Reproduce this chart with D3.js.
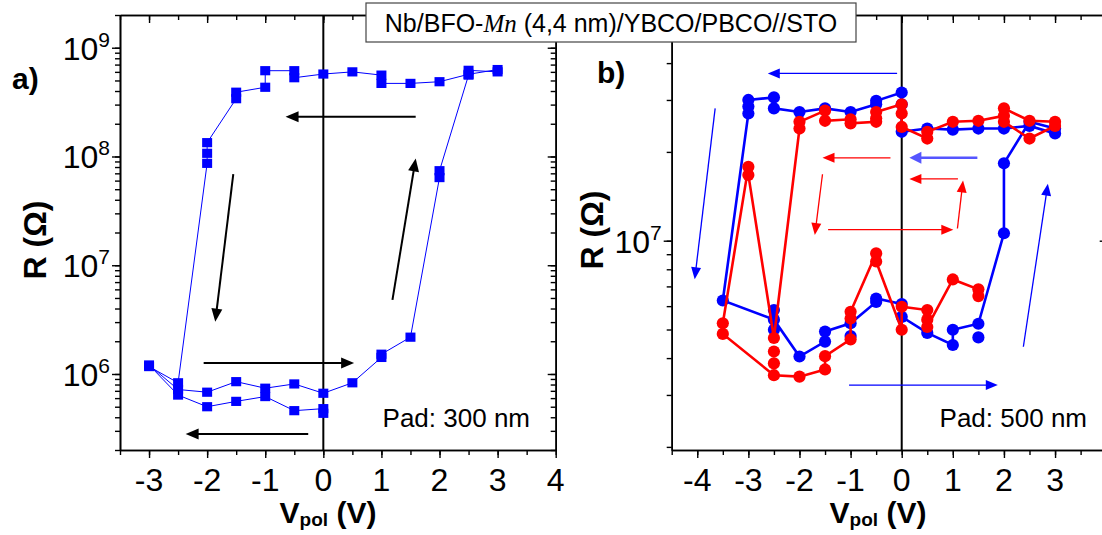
<!DOCTYPE html>
<html><head><meta charset="utf-8">
<script src="https://cdn.jsdelivr.net/npm/d3@7"></script>
<style>
body{margin:0;background:#fff}
svg{display:block}
text{font-family:"Liberation Sans",Arial,sans-serif;fill:#000}
</style>
</head><body>
<svg id="c" width="1102" height="535"></svg>
<script>
// ---------- Panel a data (Pad 300 nm) ----------
const aV = [0, 0, -0.5, -1, -1.5, -2, -2.5, -3, -2.5, -2, -1.5, -1, -0.5, 0, 0.5, 1, 1, 1.5, 2, 2, 2.5, 2.5, 3, 3, 2.5, 2, 1.5, 1, 1, 0.5, 0, -0.5, -0.5, -1, -1, -1.5, -1.5, -2, -2, -2, -2.5, -3];
const aR = [4.35e5, 4.8e5, 4.6e5, 6.2e5, 5.6e5, 5.0e5, 6.4e5, 1.21e6, 7.2e5, 6.8e5, 8.5e5, 7.4e5, 8.1e5, 6.65e5, 8.3e5, 1.42e6, 1.52e6, 2.18e6, 6.4e7, 7.4e7, 5.6e8, 6.2e8, 6.0e8, 6.3e8, 5.7e8, 4.87e8, 4.7e8, 4.7e8, 5.6e8, 6.0e8, 5.73e8, 5.3e8, 6.15e8, 6.15e8, 4.33e8, 3.9e8, 3.4e8, 1.34e8, 1.07e8, 8.65e7, 8.3e5, 1.17e6];

// ---------- Panel b data (Pad 500 nm) ----------
const bBlueV = [3, 2.5, 2, 1.5, 1, 0.5, 0, 0, 0, -0.5, -0.5, -1, -1.5, -2, -2.5, -2.5, -3, -3, -3, -3.5, -2.5, -2, -1.5, -1.5, -1, -0.5, -0.5, 0, 0, 0.5, 1, 1, 1.5, 2, 2, 2.5, 3];
const bBlueR = [2.31e7, 2.45e7, 2.40e7, 2.40e7, 2.38e7, 2.40e7, 2.34e7, 2.9e7, 3.18e7, 2.98e7, 2.9e7, 2.73e7, 2.81e7, 2.73e7, 2.81e7, 3.06e7, 3.0e7, 2.85e7, 2.7e7, 6.27e6, 5.4e6, 4.05e6, 4.55e6, 4.92e6, 5.25e6, 6.2e6, 6.37e6, 6.1e6, 5.52e6, 4.87e6, 4.43e6, 4.99e6, 5.23e6, 1.06e7, 1.83e7, 2.53e7, 2.4e7];
const bBlueExtraV = [-2.5, -2.5, -1, 1.5];
const bBlueExtraR = [5.82e6, 4.99e6, 4.75e6, 4.7e6];

const bRedV = [2, 2.5, 3, 3, 2.5, 2, 2, 1.5, 1, 0.5, 0.5, 0, 0, 0, -0.5, -0.5, -0.5, -1, -1, -1.5, -1.5, -2, -2, -2.5, -3, -3, -3.5, -3.5, -2.5, -2, -1.5, -1.5, -1, -1, -1, -0.5, -0.5, 0, 0, 0.5, 0.5, 0.5, 1, 1.5, 1.5];
const bRedR = [2.53e7, 2.22e7, 2.45e7, 2.53e7, 2.55e7, 2.81e7, 2.65e7, 2.55e7, 2.53e7, 2.34e7, 2.22e7, 2.43e7, 2.7e7, 2.9e7, 2.73e7, 2.6e7, 2.53e7, 2.5e7, 2.58e7, 2.55e7, 2.76e7, 2.53e7, 2.40e7, 4.68e6, 1.67e7, 1.78e7, 5.25e6, 4.83e6, 3.5e6, 3.46e6, 3.66e6, 4.06e6, 4.63e6, 5.45e6, 5.74e6, 9.06e6, 8.5e6, 4.99e6, 5.97e6, 5.82e6, 5.4e6, 5.1e6, 7.39e6, 6.84e6, 6.49e6];
const bRedExtraV = [-2.5, -2.5];
const bRedExtraR = [4.21e6, 3.84e6];

// ---------- Arrows [V1, R1, V2, R2] ----------
const arrowsA = [[1.59, 2.32e8, -0.65, 2.32e8], [-1.55, 6.9e7, -1.86, 3.03e6], [1.19, 4.8e6, 1.59, 9.6e7], [-2.06, 1.26e6, 0.53, 1.26e6], [-0.26, 2.8e5, -2.37, 2.8e5]];
const arrowsBlue = [[-0.09, 3.69e7, -2.62, 3.69e7], [-3.65, 2.81e7, -4.05, 7.4e6], [-1.03, 3.24e6, 1.88, 3.24e6], [2.38, 4.37e6, 2.86, 1.56e7]];
const arrowsBlueThick = [[1.48, 1.91e7, 0.15, 1.91e7]];
const arrowsRed = [[-0.22, 1.91e7, -1.55, 1.91e7], [1.10, 1.62e7, 0.15, 1.62e7], [-1.55, 1.68e7, -1.70, 1.045e7], [-1.44, 1.09e7, 1.01, 1.09e7], [1.09, 1.10e7, 1.20, 1.6e7]];

// ---------- Tick labels ----------
const aXTicks = [-3, -2, -1, 0, 1, 2, 3, 4];
const bXTicks = [-4, -3, -2, -1, 0, 1, 2, 3];
const bXMajor = [-4, -3, -2, -1, 0, 1, 2, 3, 4];
const aYTicks = [1e6, 1e7, 1e8, 1e9];
const bYTicks = [1e7];
const titleParts = ["Nb/BFO-", "Mn", " (4,4 nm)/YBCO/PBCO//STO"];

const svg = d3.select("#c");
const BLUE = "#0000ff", RED = "#ff0000";

function zip(v, r) { return v.map((d, i) => [d, r[i]]); }

function minorLog(dom) {
  const out = [];
  for (let e = Math.floor(Math.log10(dom[0])); e <= Math.ceil(Math.log10(dom[1])); e++)
    for (let m = 1; m <= 9; m++) { const v = m * Math.pow(10, e); if (v >= dom[0] && v <= dom[1]) out.push(v); }
  return out;
}
function halves(dom) {
  const out = [];
  for (let v = Math.ceil(dom[0] * 2) / 2; v <= dom[1] + 1e-9; v += 0.5) out.push(v);
  return out;
}

function frame(x, y, xMajor, xLabels, yMajor) {
  const [x0, x1] = x.range(), [y0, y1] = y.range();
  const g = svg.append("g");
  const xMin = halves(x.domain()), yMin = minorLog(y.domain());
  const ax = [
    [d3.axisBottom(x).tickValues(xMin).tickSize(5), `translate(0,${y0})`],
    [d3.axisBottom(x).tickValues(xMajor).tickSize(8), `translate(0,${y0})`],
    [d3.axisTop(x).tickValues(xMin).tickSize(-5), `translate(0,${y1})`],
    [d3.axisTop(x).tickValues(xMajor).tickSize(-8), `translate(0,${y1})`],
    [d3.axisLeft(y).tickValues(yMin).tickSize(5), `translate(${x0},0)`],
    [d3.axisLeft(y).tickValues(yMajor).tickSize(8), `translate(${x0},0)`],
    [d3.axisRight(y).tickValues(yMin).tickSize(-5), `translate(${x1},0)`],
    [d3.axisRight(y).tickValues(yMajor).tickSize(-8), `translate(${x1},0)`]
  ];
  ax.forEach(([a, t]) => {
    const s = g.append("g").attr("transform", t).call(a.tickFormat("").tickSizeOuter(0));
    s.selectAll("path.domain").attr("stroke", "#000").attr("stroke-width", 1.6);
    s.selectAll("line").attr("stroke", "#000").attr("stroke-width", 1.4);
  });
  g.selectAll("text.xl").data(xLabels).join("text").attr("class", "xl")
    .attr("x", d => x(d)).attr("y", 491).attr("text-anchor", "middle")
    .attr("font-size", 32).text(d => String(d));
  const yl = g.selectAll("text.yl").data(yMajor).join("text").attr("class", "yl")
    .attr("x", x0 - 10).attr("y", d => y(d) + 12).attr("text-anchor", "end");
  yl.append("tspan").attr("font-size", 32).text("10");
  yl.append("tspan").attr("font-size", 21).attr("dy", -13).text(d => String(Math.round(Math.log10(d))));
  g.append("line").attr("x1", x(0)).attr("x2", x(0)).attr("y1", y1).attr("y2", y0)
    .attr("stroke", "#000").attr("stroke-width", 2);
  return g;
}

function arrow(g, x, y, a, color, w, hl, hw) {
  const X1 = x(a[0]), Y1 = y(a[1]), X2 = x(a[2]), Y2 = y(a[3]);
  const dx = X2 - X1, dy = Y2 - Y1, L = Math.hypot(dx, dy), ux = dx / L, uy = dy / L;
  const bx = X2 - ux * hl, by = Y2 - uy * hl;
  g.append("line").attr("x1", X1).attr("y1", Y1).attr("x2", bx + ux).attr("y2", by + uy)
    .attr("stroke", color).attr("stroke-width", w);
  g.append("path").attr("d", `M${X2},${Y2}L${bx - uy * hw / 2},${by + ux * hw / 2}L${bx + uy * hw / 2},${by - ux * hw / 2}Z`)
    .attr("fill", color);
}

// ---------- Panel a ----------
const xA = d3.scaleLinear().domain([-3.5, 4]).range([120, 555.7]);
const yA = d3.scaleLog().domain([2e5, 2e9]).range([450, 15]);
const gA = frame(xA, yA, aXTicks, aXTicks, aYTicks);
const ptsA = zip(aV, aR);
gA.append("path").datum(ptsA).attr("fill", "none").attr("stroke", BLUE).attr("stroke-width", 1)
  .attr("d", d3.line().x(d => xA(d[0])).y(d => yA(d[1])));
gA.selectAll("rect.m").data(ptsA).join("rect").attr("class", "m")
  .attr("x", d => xA(d[0]) - 5).attr("y", d => yA(d[1]) - 4.6).attr("width", 10).attr("height", 9.2)
  .attr("fill", BLUE);
arrowsA.forEach(a => arrow(gA, xA, yA, a, "#000", 2, 13, 11));

// ---------- Panel b ----------
const xB = d3.scaleLinear().domain([-4.5, 4.03]).range([671.7, 1107.7]);
const yB = d3.scaleLog().domain([1.952e6, 5.823e7]).range([450, 15]);
const gB = frame(xB, yB, bXMajor, bXTicks, bYTicks);
arrowsBlue.forEach(a => arrow(gB, xB, yB, a, BLUE, 1.3, 12, 10));
arrowsBlueThick.forEach(a => arrow(gB, xB, yB, a, "#5555ff", 2.6, 12, 12));
arrowsRed.forEach(a => arrow(gB, xB, yB, a, RED, 1.3, 12, 10));

function series(v, r, ev, er, color) {
  const pts = zip(v, r), ex = zip(ev, er);
  gB.append("path").datum(pts).attr("fill", "none").attr("stroke", color).attr("stroke-width", 2.6)
    .attr("d", d3.line().x(d => xB(d[0])).y(d => yB(d[1])));
  gB.append("g").selectAll("circle").data(pts.concat(ex)).join("circle")
    .attr("cx", d => xB(d[0])).attr("cy", d => yB(d[1])).attr("r", 6.1).attr("fill", color);
}
series(bBlueV, bBlueR, bBlueExtraV, bBlueExtraR, BLUE);
series(bRedV, bRedR, bRedExtraV, bRedExtraR, RED);

// ---------- Texts ----------
function rLabel(x, cy) {
  svg.append("text").attr("transform", `translate(${x},${cy}) rotate(-90)`)
    .attr("text-anchor", "middle").attr("font-size", 32).attr("font-weight", "bold").text("R (Ω)");
}
rLabel(46, 240);
rLabel(603, 230);

function vLabel(cx) {
  const t = svg.append("text").attr("x", cx).attr("y", 523).attr("text-anchor", "middle")
    .attr("font-weight", "bold").attr("font-size", 30);
  t.append("tspan").text("V");
  t.append("tspan").attr("font-size", 19).attr("dy", 3).text("pol");
  t.append("tspan").attr("dy", -3).text(" (V)");
}
vLabel(328);
vLabel(878);

svg.append("text").attr("x", 12).attr("y", 89).attr("font-size", 30).attr("font-weight", "bold").text("a)");
svg.append("text").attr("x", 597).attr("y", 83).attr("font-size", 30).attr("font-weight", "bold").text("b)");

svg.append("text").attr("x", 530).attr("y", 427).attr("text-anchor", "end").attr("font-size", 26).text("Pad: 300 nm");
svg.append("text").attr("x", 1087).attr("y", 427).attr("text-anchor", "end").attr("font-size", 26).text("Pad: 500 nm");

// title box
svg.append("rect").attr("x", 366).attr("y", 3).attr("width", 490).attr("height", 39)
  .attr("fill", "#fff").attr("stroke", "#444").attr("stroke-width", 1.2);
const tt = svg.append("text").attr("x", 611).attr("y", 31.5).attr("text-anchor", "middle").attr("font-size", 25);
tt.append("tspan").text(titleParts[0]);
tt.append("tspan").attr("font-family", "'Liberation Serif','Times New Roman',serif").attr("font-style", "italic").text(titleParts[1]);
tt.append("tspan").text(titleParts[2]);
</script>
</body></html>
